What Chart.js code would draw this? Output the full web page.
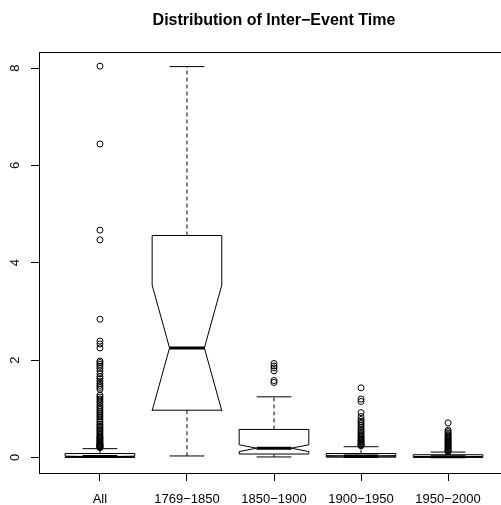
<!DOCTYPE html>
<html>
<head>
<meta charset="utf-8">
<script src="https://cdn.jsdelivr.net/npm/chart.js@4"></script>
<style>
	body { margin: 0; overflow: hidden; background: #fff; }
	#wrap { width: 520px; height: 505px; }
</style>
</head>
<body>
<div id="wrap"><canvas id="chart"></canvas></div>
<script>
/* 그룹별 이벤트 간격 박스플롯 (R boxplot, notch=TRUE 흉내) */

const groups = ['All', '1769\u22121850', '1850\u22121900', '1900\u22121950', '1950\u22122000'];
const lowWhisker = [0.0, 0.03, 0.01, 0.0, 0.0];
const q1 = [0.0, 0.97, 0.07, 0.005, 0.0];
const medians = [0.02, 2.25, 0.19, 0.03, 0.015];
const q3 = [0.08, 4.56, 0.575, 0.08, 0.055];
const highWhisker = [0.18, 8.03, 1.245, 0.22, 0.11];
const notchLow = [0.014, 0.96, 0.12, 0.022, 0.01];
const notchHigh = [0.026, 3.54, 0.26, 0.038, 0.02];
const yTicks = [0, 2, 4, 6, 8];

// 이상치
const outAll = [8.04, 6.44, 4.67, 4.47, 2.84, 2.39, 2.33, 2.25, 1.98, 1.95, 1.91, 1.87, 1.83, 1.78,
	1.72, 1.66, 1.62, 1.57, 1.52, 1.48, 1.44, 1.40, 1.28, 1.24, 1.20, 1.16, 1.12, 1.07, 1.03, 0.99,
	0.95, 0.91, 0.87, 0.83, 0.79, 0.75, 0.72, 0.68, 0.65, 0.62, 0.59, 0.56, 0.53, 0.50, 0.47, 0.44,
	0.42, 0.40, 0.38, 0.36, 0.34, 0.32, 0.30, 0.28, 0.27, 0.26, 0.25, 0.24, 0.23, 0.22, 0.21, 0.20];
const out1769 = [];
const out1850 = [1.93, 1.88, 1.84, 1.78, 1.58, 1.54];
const out1900 = [1.43, 1.20, 1.15, 0.92, 0.84, 0.78, 0.74, 0.70, 0.66, 0.62, 0.58, 0.55, 0.52,
	0.49, 0.46, 0.43, 0.40, 0.38, 0.36, 0.34, 0.32, 0.30, 0.28, 0.26, 0.25, 0.24];
const out1950 = [0.71, 0.56, 0.53, 0.50, 0.47, 0.44, 0.42, 0.40, 0.38, 0.36, 0.34, 0.32, 0.30,
	0.28, 0.26, 0.24, 0.22, 0.20, 0.18, 0.16, 0.14, 0.13, 0.12];
const outliers = [outAll, out1769, out1850, out1900, out1950];

const FONT = '"Liberation Sans", Arial, sans-serif';

/* 박스 그리기 플러그인 - 스케일 좌표 사용 */
const boxPlugin = {
	id: 'boxes',
	afterDatasetsDraw(chart) {
		const ctx = chart.ctx;
		const xs = chart.scales.x;
		const ys = chart.scales.y;
		const Y = v => ys.getPixelForValue(v);
		ctx.save();
		ctx.strokeStyle = '#000';
		ctx.lineWidth = 1;
		for (let i = 0; i < groups.length; i++) {
			const c = xs.getPixelForValue(i + 1);
			const w = c - xs.getPixelForValue(i + 1 - 0.4);
			// 수염 (점선)
			ctx.setLineDash([4, 3]);
			ctx.beginPath();
			ctx.moveTo(c, Y(q3[i])); ctx.lineTo(c, Y(highWhisker[i]));
			ctx.moveTo(c, Y(q1[i])); ctx.lineTo(c, Y(lowWhisker[i]));
			ctx.stroke();
			ctx.setLineDash([]);
			// 수염 끝
			ctx.beginPath();
			ctx.moveTo(c - w / 2, Y(highWhisker[i])); ctx.lineTo(c + w / 2, Y(highWhisker[i]));
			ctx.moveTo(c - w / 2, Y(lowWhisker[i])); ctx.lineTo(c + w / 2, Y(lowWhisker[i]));
			ctx.stroke();
			// 노치 박스
			ctx.beginPath();
			ctx.moveTo(c - w, Y(q1[i]));
			ctx.lineTo(c - w, Y(notchLow[i]));
			ctx.lineTo(c - w / 2, Y(medians[i]));
			ctx.lineTo(c - w, Y(notchHigh[i]));
			ctx.lineTo(c - w, Y(q3[i]));
			ctx.lineTo(c + w, Y(q3[i]));
			ctx.lineTo(c + w, Y(notchHigh[i]));
			ctx.lineTo(c + w / 2, Y(medians[i]));
			ctx.lineTo(c + w, Y(notchLow[i]));
			ctx.lineTo(c + w, Y(q1[i]));
			ctx.closePath();
			ctx.stroke();
			// 중앙값
			ctx.lineWidth = 3;
			ctx.beginPath();
			ctx.moveTo(c - w / 2, Y(medians[i])); ctx.lineTo(c + w / 2, Y(medians[i]));
			ctx.stroke();
			ctx.lineWidth = 1;
		}
		ctx.restore();
	},
	afterDraw(chart) {
		const ctx = chart.ctx;
		const a = chart.chartArea;
		const ys = chart.scales.y;
		ctx.save();
		// 테두리
		ctx.strokeStyle = '#000';
		ctx.lineWidth = 1;
		ctx.strokeRect(Math.round(a.left) + 0.5, Math.round(a.top) + 0.5, a.right - a.left, a.bottom - a.top);
		// y축 라벨 (세로)
		ctx.fillStyle = '#000';
		ctx.font = '13px ' + FONT;
		ctx.textAlign = 'center';
		ctx.textBaseline = 'middle';
		yTicks.forEach(v => {
			ctx.save();
			ctx.translate(15, ys.getPixelForValue(v));
			ctx.rotate(-Math.PI / 2);
			ctx.fillText(String(v), 0, 0);
			ctx.restore();
		});
		// 제목
		ctx.font = 'bold 16px ' + FONT;
		ctx.fillText('Distribution of Inter\u2212Event Time', (a.left + a.right) / 2, 21);
		ctx.restore();
	}
};

window.onload = function() {
	const datasets = outliers.map((arr, i) => ({
		label: groups[i],
		data: arr.map(v => ({ x: i + 1, y: v })),
		pointStyle: 'circle',
		pointRadius: 3,
		pointBorderWidth: 1,
		pointBorderColor: '#000',
		pointBackgroundColor: 'rgba(0,0,0,0)'
	}));

	new Chart(document.getElementById('chart'), {
		type: 'scatter',
		data: { datasets: datasets },
		options: {
			responsive: true,
			maintainAspectRatio: false,
			animation: false,
			layout: { padding: { top: 52, right: 11, left: 0, bottom: 0 } },
			plugins: {
				legend: { display: false },
				tooltip: { enabled: false },
				title: { display: false }
			},
			scales: {
				x: {
					type: 'linear',
					min: 0.3,
					max: 5.7,
					afterBuildTicks: s => { s.ticks = groups.map((g, i) => ({ value: i + 1 })); },
					afterFit: s => { s.height = 32; },
					border: { display: false },
					grid: { drawOnChartArea: false, drawTicks: true, tickLength: 8, color: '#000' },
					ticks: {
						color: '#000',
						font: { size: 13, family: FONT },
						padding: 11,
						maxRotation: 0,
						minRotation: 0,
						autoSkip: false,
						callback: v => groups[v - 1]
					}
				},
				y: {
					type: 'linear',
					min: -0.32,
					max: 8.33,
					afterBuildTicks: s => { s.ticks = yTicks.map(v => ({ value: v })); },
					afterFit: s => { s.width = 39; },
					border: { display: false },
					grid: { drawOnChartArea: false, drawTicks: true, tickLength: 8, color: '#000' },
					ticks: { display: false }
				}
			}
		},
		plugins: [boxPlugin]
	});
};
</script>
</body>
</html>
